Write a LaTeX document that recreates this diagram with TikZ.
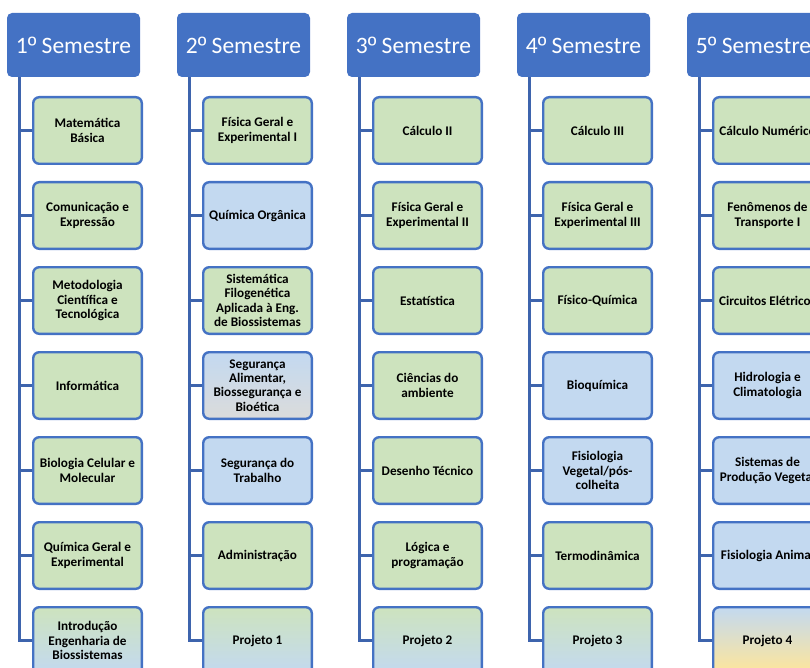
\documentclass[tikz,border=0pt]{standalone}
\usepackage{fontspec}
\setmainfont{Carlito}
\newfontfamily\ordfont{Liberation Sans}
\newcommand\ordo{{\ordfont º}}
\definecolor{hdr}{HTML}{4472C4}
\definecolor{edgeblue}{HTML}{4472C4}
\definecolor{connblue}{HTML}{3E64AD}
\definecolor{lgreen}{HTML}{CDE3BE}
\definecolor{lblue}{HTML}{C3D9F0}
\definecolor{lgrey}{HTML}{DBDBDB}
\definecolor{lyellow}{HTML}{FFE699}
\tikzset{
  hdrbox/.style={fill=hdr, rounded corners=5pt, minimum width=133pt, minimum height=64pt,
    text=white, font=\fontsize{23.5}{26}\selectfont, inner sep=0pt},
  subj/.style={draw=edgeblue, line width=2.4pt, rounded corners=6pt, minimum width=108.6pt,
    minimum height=66.6pt, align=center, font=\bfseries\fontsize{13.2}{14.2}\selectfont, inner sep=0pt},
  sgreen/.style={subj, fill=lgreen},
  sblue/.style={subj, fill=lblue},
  sgb/.style={subj, top color=lgreen, bottom color=lblue},
  sbgr/.style={subj, top color=lblue, bottom color=lgrey},
  sby/.style={subj, top color=lblue, bottom color=lyellow},
  connline/.style={draw=connblue, line width=3pt}
}
\begin{document}
\begin{tikzpicture}[x=1pt, y=-1pt]
\useasboundingbox (0,0) rectangle (810,668);
\clip (0,0) rectangle (810,668);
% headers
\node[hdrbox] (h1) at (73.5,45) {1\ordo\ Semestre};
\node[hdrbox] (h2) at (243.5,45) {2\ordo\ Semestre};
\node[hdrbox] (h3) at (413.5,45) {3\ordo\ Semestre};
\node[hdrbox] (h4) at (583.5,45) {4\ordo\ Semestre};
\node[hdrbox] (h5) at (753.5,45) {5\ordo\ Semestre};
% column 1
\node[sgreen] (b1-1) at (87.5,130.5) {Matemática\\Básica};
\node[sgreen] (b1-2) at (87.5,215.5) {Comunicação e\\Expressão};
\node[sgreen] (b1-3) at (87.5,300.5) {Metodologia\\Científica e\\Tecnológica};
\node[sgreen] (b1-4) at (87.5,385.5) {Informática};
\node[sgreen] (b1-5) at (87.5,470.5) {Biologia Celular e\\Molecular};
\node[sgreen] (b1-6) at (87.5,555.5) {Química Geral e\\Experimental};
\node[sgb] (b1-7) at (87.5,640.5) {Introdução\\Engenharia de\\Biossistemas};
% column 2
\node[sgreen] (b2-1) at (257.5,130.5) {Física Geral e\\Experimental I};
\node[sblue] (b2-2) at (257.5,215.5) {Química Orgânica};
\node[sgreen] (b2-3) at (257.5,300.5) {Sistemática\\Filogenética\\Aplicada à Eng.\\de Biossistemas};
\node[sbgr] (b2-4) at (257.5,385.5) {Segurança\\Alimentar,\\Biossegurança e\\Bioética};
\node[sblue] (b2-5) at (257.5,470.5) {Segurança do\\Trabalho};
\node[sgreen] (b2-6) at (257.5,555.5) {Administração};
\node[sgb] (b2-7) at (257.5,640.5) {Projeto 1};
% column 3
\node[sgreen] (b3-1) at (427.5,130.5) {Cálculo II};
\node[sgreen] (b3-2) at (427.5,215.5) {Física Geral e\\Experimental II};
\node[sgreen] (b3-3) at (427.5,300.5) {Estatística};
\node[sgreen] (b3-4) at (427.5,385.5) {Ciências do\\ambiente};
\node[sgreen] (b3-5) at (427.5,470.5) {Desenho Técnico};
\node[sgreen] (b3-6) at (427.5,555.5) {Lógica e\\programação};
\node[sgb] (b3-7) at (427.5,640.5) {Projeto 2};
% column 4
\node[sgreen] (b4-1) at (597.5,130.5) {Cálculo III};
\node[sgreen] (b4-2) at (597.5,215.5) {Física Geral e\\Experimental III};
\node[sgreen] (b4-3) at (597.5,300.5) {Físico-Química};
\node[sblue] (b4-4) at (597.5,385.5) {Bioquímica};
\node[sblue] (b4-5) at (597.5,470.5) {Fisiologia\\Vegetal/pós-\\colheita};
\node[sgreen] (b4-6) at (597.5,555.5) {Termodinâmica};
\node[sgb] (b4-7) at (597.5,640.5) {Projeto 3};
% column 5
\node[sgreen] (b5-1) at (767.5,130.5) {Cálculo Numérico};
\node[sgreen] (b5-2) at (767.5,215.5) {Fenômenos de\\Transporte I};
\node[sgreen] (b5-3) at (767.5,300.5) {Circuitos Elétricos};
\node[sblue] (b5-4) at (767.5,385.5) {Hidrologia e\\Climatologia};
\node[sblue] (b5-5) at (767.5,470.5) {Sistemas de\\Produção Vegetal};
\node[sblue] (b5-6) at (767.5,555.5) {Fisiologia Animal};
\node[sby] (b5-7) at (767.5,640.5) {Projeto 4};
% connectors
\foreach \c in {1,...,5}{
  \foreach \r in {1,...,7}{
    \draw[connline] ([xshift=-54.5pt]h\c.south) |- (b\c-\r.west);
  }
}
\end{tikzpicture}
\end{document}
